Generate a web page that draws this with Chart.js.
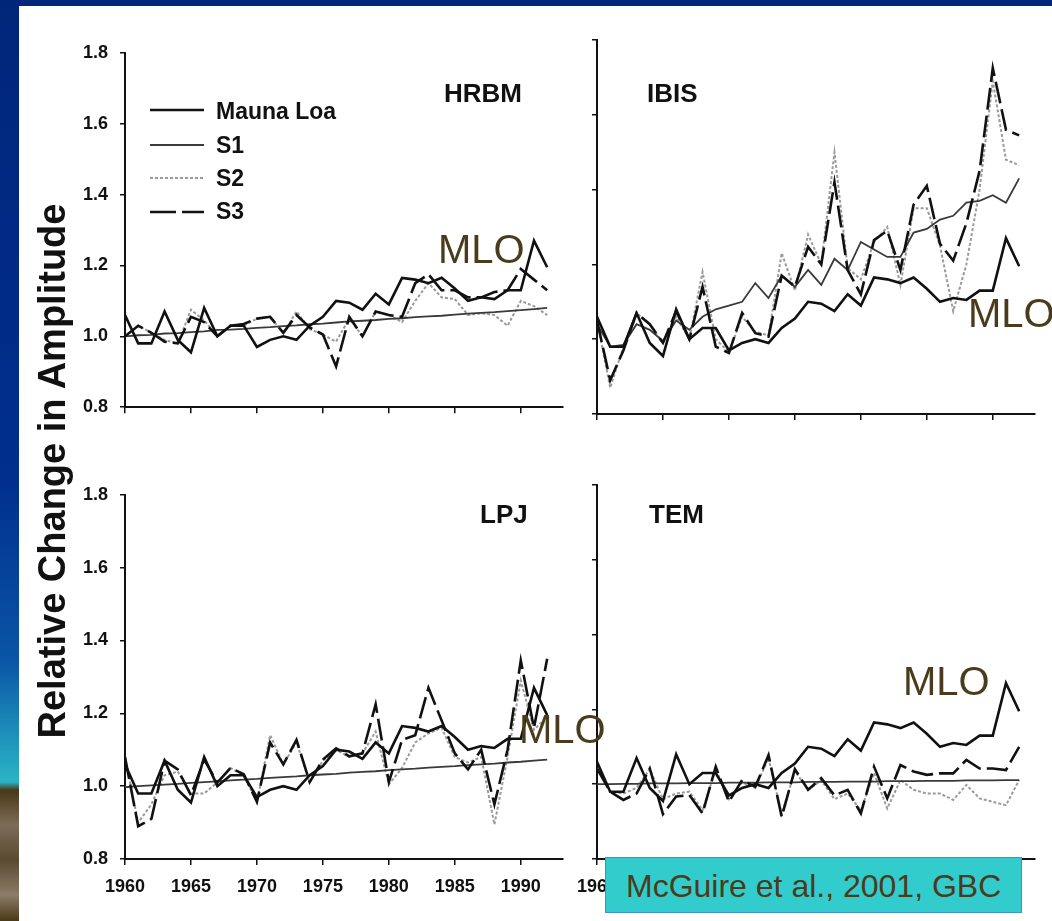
<!DOCTYPE html>
<html><head><meta charset="utf-8">
<script src="https://cdn.jsdelivr.net/npm/chart.js@4.4.0/dist/chart.umd.min.js"></script>
<style>
html,body{margin:0;padding:0;}
body{width:1052px;height:921px;position:relative;overflow:hidden;background:#00277a;font-family:"Liberation Sans",Arial,sans-serif;}
#leftbar{position:absolute;left:0;top:0;width:19px;height:921px;
 background:linear-gradient(to bottom,#00267a 0px,#002f8e 480px,#0a55a6 660px,#1f98bd 745px,#2bb3c5 782px,#4a3818 790px,#7d6c57 825px,#5a4a30 860px,#8c7c68 895px,#4a3818 921px);}
#panel{position:absolute;left:19px;top:6px;width:1033px;height:915px;background:#fff;}
canvas.cv{position:absolute;}
.ov{position:absolute;white-space:nowrap;}
.ttl{font-weight:bold;font-size:26px;line-height:26px;color:#111;}
.leg{font-weight:bold;font-size:23px;line-height:23px;color:#111;left:216px;}
.mlo{font-size:40px;line-height:40px;color:#4a3b1c;}
#ytitle{left:-248px;top:452px;width:600px;text-align:center;font-weight:bold;font-size:38px;line-height:38px;color:#111;transform:rotate(-90deg);}
#cite{left:605px;top:857px;width:417px;height:56px;background:#33cccc;border:1px solid #3d8fe0;font-size:32px;line-height:56px;color:#4a3b1c;padding-left:20px;box-sizing:border-box;}
</style></head>
<body>
<div id="leftbar"></div>
<div id="panel"></div>
<canvas id="cTL" class="cv" width="510" height="400" style="left:60px;top:30px;width:510px;height:400px"></canvas>
<canvas id="cTR" class="cv" width="510" height="399" style="left:532px;top:27px;width:510px;height:399px"></canvas>
<canvas id="cBL" class="cv" width="510" height="427" style="left:60px;top:472px;width:510px;height:427px"></canvas>
<canvas id="cBR" class="cv" width="510" height="427" style="left:532px;top:472px;width:510px;height:427px"></canvas>

<div id="ytitle" class="ov">Relative Change in Amplitude</div>

<div class="ov ttl" style="left:444px;top:80px">HRBM</div>
<div class="ov ttl" style="left:647px;top:80px">IBIS</div>
<div class="ov ttl" style="left:480px;top:501px">LPJ</div>
<div class="ov ttl" style="left:649px;top:501px">TEM</div>

<svg class="ov" style="left:0;top:0" width="300" height="240">
 <line x1="150" y1="110" x2="204" y2="110" stroke="#111" stroke-width="2.6"/>
 <line x1="150" y1="145" x2="204" y2="145" stroke="#3a3a3a" stroke-width="2"/>
 <line x1="150" y1="178" x2="204" y2="178" stroke="#9a9a9a" stroke-width="2" stroke-dasharray="3 2"/>
 <line x1="150" y1="212" x2="204" y2="212" stroke="#111" stroke-width="2.6" stroke-dasharray="26 6"/>
</svg>
<div class="ov leg" id="leg0" style="top:100px"></div>
<div class="ov leg" id="leg1" style="top:134px"></div>
<div class="ov leg" id="leg2" style="top:167px"></div>
<div class="ov leg" id="leg3" style="top:200px"></div>

<div class="ov mlo" style="left:438px;top:229px">MLO</div>
<div class="ov mlo" style="left:968px;top:293px">MLO</div>
<div class="ov mlo" style="left:519px;top:709px">MLO</div>
<div class="ov mlo" style="left:903px;top:661px">MLO</div>

<div id="cite" class="ov">McGuire et al., 2001, GBC</div>

<script>
const YEARS = [1960,1961,1962,1963,1964,1965,1966,1967,1968,1969,1970,1971,1972,1973,1974,1975,1976,1977,1978,1979,1980,1981,1982,1983,1984,1985,1986,1987,1988,1989,1990,1991,1992];
const SERIES_NAMES = ['Mauna Loa','S1','S2','S3'];
const PANEL_NAMES = ['HRBM','IBIS','LPJ','TEM'];
const X_TICKS = [1960,1965,1970,1975,1980,1985,1990];
const Y_TICKS = [0.8,1.0,1.2,1.4,1.6,1.8];

const MLO = [1.06,0.98,0.98,1.07,0.99,0.955,1.08,1.00,1.03,1.03, 0.97,0.99,1.00,0.99,1.03,1.055,1.10,1.095,1.075,1.12, 1.09,1.165,1.16,1.15,1.165,1.135,1.10,1.11,1.105,1.13, 1.13,1.27,1.195];

const HRBM_S1 = [1.000,1.003,1.004,1.008,1.009,1.012,1.014,1.018,1.019,1.021, 1.024,1.026,1.029,1.031,1.034,1.036,1.039,1.042,1.044,1.046, 1.049,1.051,1.054,1.056,1.058,1.061,1.064,1.066,1.068,1.071, 1.074,1.077,1.080];
const HRBM_S2 = [1.00,1.03,1.01,0.99,0.98,1.075,1.045,1.00,1.03,1.03, 1.05,1.055,1.01,1.07,1.02,1.005,0.985,1.05,1.00,1.07, 1.06,1.04,1.10,1.15,1.11,1.105,1.06,1.065,1.06,1.03, 1.10,1.085,1.06];
const HRBM_S3 = [1.00,1.03,1.01,0.985,0.98,1.055,1.04,1.00,1.03,1.035, 1.05,1.055,1.01,1.06,1.025,1.005,0.915,1.055,1.00,1.07, 1.06,1.055,1.15,1.175,1.13,1.13,1.11,1.11,1.125,1.13, 1.19,1.16,1.13];

const IBIS_S1 = [1.04,0.98,0.985,1.04,1.025,0.995,1.05,1.025,1.06,1.08, 1.09,1.10,1.15,1.11,1.17,1.14,1.185,1.145,1.215,1.185, 1.26,1.24,1.22,1.22,1.285,1.295,1.32,1.33,1.365,1.37, 1.385,1.365,1.43];
const IBIS_S2 = [1.05,0.87,0.98,1.07,1.04,0.99,1.06,1.00,1.18,1.00, 0.965,1.06,1.02,1.01,1.23,1.13,1.28,1.20,1.50,1.19, 1.16,1.26,1.30,1.145,1.35,1.35,1.25,1.075,1.20,1.40, 1.69,1.48,1.465];
const IBIS_S3 = [1.05,0.89,0.97,1.07,1.04,0.99,1.075,1.00,1.14,0.98, 0.963,1.07,1.016,1.007,1.17,1.14,1.247,1.20,1.42,1.185, 1.12,1.265,1.29,1.185,1.36,1.41,1.255,1.21,1.31,1.45, 1.725,1.56,1.545];

const LPJ_S1 = [0.997,1.000,1.002,1.004,1.006,1.009,1.011,1.013,1.016,1.018, 1.020,1.023,1.025,1.027,1.030,1.032,1.034,1.037,1.039,1.041, 1.044,1.046,1.048,1.051,1.053,1.055,1.058,1.060,1.062,1.065, 1.067,1.070,1.073];
const LPJ_S2 = [1.08,0.90,0.95,1.03,1.04,0.98,0.98,1.01,1.05,1.03, 0.955,1.14,1.06,1.12,1.01,1.07,1.10,1.08,1.09,1.15, 1.005,1.05,1.12,1.145,1.16,1.08,1.065,1.08,0.895,1.08, 1.29,1.155,1.19];
const LPJ_S3 = [1.08,0.89,0.91,1.07,1.046,0.975,1.073,1.01,1.05,1.033, 0.957,1.12,1.06,1.127,1.011,1.073,1.104,1.082,1.09,1.225, 1.011,1.127,1.14,1.27,1.18,1.09,1.046,1.10,0.95,1.10, 1.345,1.16,1.35];

const TEM_S1 = [1.000,1.000,1.001,1.001,1.002,1.002,1.002,1.003,1.003,1.003, 1.004,1.004,1.004,1.005,1.005,1.005,1.006,1.006,1.006,1.007, 1.007,1.007,1.008,1.008,1.008,1.009,1.009,1.009,1.010,1.010, 1.010,1.011,1.011];
const TEM_S2 = [1.042,0.98,0.975,0.99,1.04,0.96,0.975,0.98,0.93,1.04, 0.96,1.005,0.99,1.07,0.92,1.035,0.985,1.01,0.96,0.975, 0.93,1.03,0.935,1.011,0.985,0.975,0.975,0.958,0.998,0.962, 0.953,0.944,1.011];
const TEM_S3 = [1.042,0.98,0.958,0.975,1.042,0.92,0.967,0.971,0.922,1.047, 0.953,1.011,0.993,1.078,0.913,1.04,0.985,1.016,0.97,0.985, 0.922,1.047,0.962,1.051,1.034,1.025,1.029,1.029,1.065,1.042, 1.042,1.038,1.10];

SERIES_NAMES.forEach((n,i)=>{document.getElementById('leg'+i).textContent=n;});

const TICK_FONT = {family:'"Liberation Sans", Arial, sans-serif', size:18, weight:'bold'};
function pts(arr){ return YEARS.map((yr,i)=>({x:yr,y:arr[i]})); }

function build(id, name, s1, s2, s3, showY, showX, xh){
  return new Chart(document.getElementById(id), {
    type:'line',
    data:{datasets:[
      {label:SERIES_NAMES[0], data:pts(MLO), borderColor:'#111', borderWidth:2.6, pointRadius:0, tension:0, fill:false},
      {label:SERIES_NAMES[3], data:pts(s3), borderColor:'#111', borderWidth:2.6, borderDash:[22,6], pointRadius:0, tension:0, fill:false},
      {label:SERIES_NAMES[1], data:pts(s1), borderColor:'#3a3a3a', borderWidth:1.8, pointRadius:0, tension:0, fill:false},
      {label:SERIES_NAMES[2], data:pts(s2), borderColor:'#9a9a9a', borderWidth:2, borderDash:[3,2], pointRadius:0, tension:0, fill:false}
    ]},
    options:{
      responsive:false, animation:false, devicePixelRatio:1,
      layout:{autoPadding:false, padding:{left:0, top:13, right:7, bottom:0}},
      plugins:{legend:{display:false}, tooltip:{enabled:false}, title:{display:false, text:name}},
      scales:{
        x:{type:'linear', min:1960, max:1993.2,
           afterBuildTicks:s=>{s.ticks = X_TICKS.map(v=>({value:v}));},
           afterFit:s=>{s.height = xh;},
           ticks:{display:showX, font:TICK_FONT, color:'#111', padding:11, maxRotation:0, autoSkip:false, callback:v=>String(v)},
           grid:{drawOnChartArea:false, drawTicks:true, tickLength:6, color:'#111', lineWidth:1.5},
           border:{display:true, color:'#111', width:2}},
        y:{type:'linear', min:0.8, max:1.8,
           afterBuildTicks:s=>{s.ticks = Y_TICKS.map(v=>({value:v}));},
           afterFit:s=>{s.width = 65;},
           ticks:{display:showY, font:TICK_FONT, color:'#111', padding:12, callback:v=>Number(v).toFixed(1)},
           grid:{drawOnChartArea:false, drawTicks:true, tickLength:5, color:'#111', lineWidth:1.5},
           border:{display:true, color:'#111', width:2}}
      }
    }
  });
}

build('cTL', PANEL_NAMES[0], HRBM_S1, HRBM_S2, HRBM_S3, true, false, 12);
build('cTR', PANEL_NAMES[1], IBIS_S1, IBIS_S2, IBIS_S3, false, false, 12);
build('cBL', PANEL_NAMES[2], LPJ_S1, LPJ_S2, LPJ_S3, true, true, 40);
build('cBR', PANEL_NAMES[3], TEM_S1, TEM_S2, TEM_S3, false, true, 40);
</script>
</body></html>
